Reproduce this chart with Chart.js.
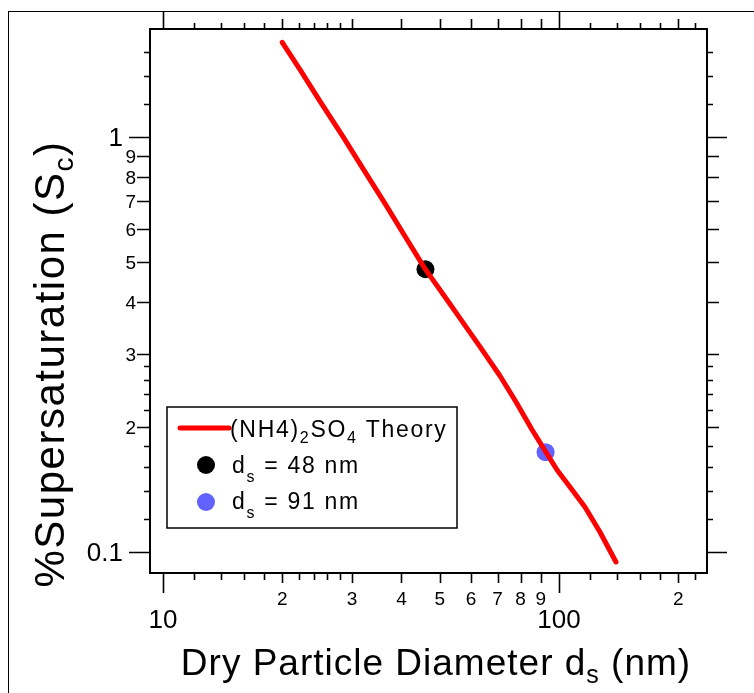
<!DOCTYPE html>
<html>
<head>
<meta charset="utf-8">
<script src="https://cdn.jsdelivr.net/npm/chart.js@4.4.1/dist/chart.umd.min.js"></script>
<style>
  html, body { margin: 0; padding: 0; background: #fff; }
</style>
</head>
<body>
<canvas id="chart" width="754" height="693"></canvas>
<script>
// (NH4)2SO4 theory curve
const theoryDiameter = [20.0, 22.2, 24.9, 28.5, 32.4, 36.4, 40.8, 45.9, 51.5, 56.2, 63.2, 71.0, 77.9, 85.5, 92.7, 98.9, 106.6, 116.3, 126.9, 139.3];
const theorySc = [1.69, 1.45, 1.22, 1.0, 0.823, 0.690, 0.577, 0.481, 0.412, 0.366, 0.312, 0.2655, 0.2298, 0.197, 0.174, 0.1576, 0.1434, 0.1284, 0.1117, 0.0946];

// measured points
const smallDiameter = [46];
const smallSc = [0.48];
const bigDiameter = [92.5];
const bigSc = [0.174];

// axis ticks (Igor style log axes)
const xMajorTicks = [10, 100];
const xMajorLabels = ['10', '100'];
const xMidTicks = [20, 30, 40, 50, 60, 70, 80, 90, 200];
const xMidLabels = ['2', '3', '4', '5', '6', '7', '8', '9', '2'];
const xMinorTicks = [12, 14, 16, 18, 22, 24, 26, 28, 120, 140, 160, 180, 220];
const yMajorTicks = [0.1, 1];
const yMajorLabels = ['0.1', '1'];
const yMidTicks = [0.2, 0.3, 0.4, 0.5, 0.6, 0.7, 0.8, 0.9];
const yMidLabels = ['2', '3', '4', '5', '6', '7', '8', '9'];
const yMinorTicks = [0.12, 0.14, 0.16, 0.18, 0.22, 0.24, 0.26, 0.28, 1.2, 1.4, 1.6];

const FONT = '"Liberation Sans", Arial, sans-serif';

function toPoints(xs, ys) {
    return xs.map((x, i) => ({x: x, y: ys[i]}));
}

// draws text made of normal and subscript pieces
function richText(ctx, x, y, parts, size, subSize, subDrop, align, spacing) {
    ctx.letterSpacing = (spacing || 0) + 'px';
    let w = 0;
    parts.forEach(p => {
        ctx.font = (p.sub ? subSize : size) + 'px ' + FONT;
        w += ctx.measureText(p.t).width;
    });
    let cx = x;
    if (align === 'center') cx = x - w / 2;
    ctx.textAlign = 'left';
    ctx.textBaseline = 'alphabetic';
    parts.forEach(p => {
        ctx.font = (p.sub ? subSize : size) + 'px ' + FONT;
        ctx.fillText(p.t, cx, p.sub ? y + subDrop : y);
        cx += ctx.measureText(p.t).width;
    });
    ctx.letterSpacing = '0px';
    return w;
}

const igorAxes = {
    id: 'igorAxes',
    afterDraw(chart) {
        const ctx = chart.ctx;
        const a = chart.chartArea;
        const xs = chart.scales.x;
        const ys = chart.scales.y;
        ctx.save();

        // outer figure border
        ctx.strokeStyle = '#000';
        ctx.lineWidth = 1;
        ctx.strokeRect(8.5, 11.5, 800, 720);

        // plot frame
        ctx.lineWidth = 2;
        ctx.strokeRect(a.left, a.top, a.right - a.left, a.bottom - a.top);

        ctx.lineWidth = 1.6;
        ctx.beginPath();
        const xTick = (vals, lenB, lenT) => vals.forEach(v => {
            const px = Math.round(xs.getPixelForValue(v)) + 0.5;
            ctx.moveTo(px, a.bottom); ctx.lineTo(px, a.bottom + lenB);
            ctx.moveTo(px, a.top); ctx.lineTo(px, a.top - lenT);
        });
        const yTick = (vals, lenL, lenR) => vals.forEach(v => {
            const py = Math.round(ys.getPixelForValue(v)) + 0.5;
            ctx.moveTo(a.left, py); ctx.lineTo(a.left - lenL, py);
            ctx.moveTo(a.right, py); ctx.lineTo(a.right + lenR, py);
        });
        xTick(xMajorTicks, 20, 18);
        xTick(xMidTicks, 10, 10);
        xTick(xMinorTicks, 7, 6);
        yTick(yMajorTicks, 21, 20);
        yTick(yMidTicks, 13, 12);
        yTick(yMinorTicks, 6, 6);
        ctx.stroke();

        // tick labels
        ctx.fillStyle = '#000';
        ctx.textBaseline = 'alphabetic';
        ctx.textAlign = 'center';
        ctx.font = '19px ' + FONT;
        xMidTicks.forEach((v, i) => ctx.fillText(xMidLabels[i], xs.getPixelForValue(v), a.bottom + 32));
        ctx.font = '26px ' + FONT;
        xMajorTicks.forEach((v, i) => ctx.fillText(xMajorLabels[i], xs.getPixelForValue(v), a.bottom + 55));

        ctx.textAlign = 'right';
        ctx.font = '19px ' + FONT;
        yMidTicks.forEach((v, i) => ctx.fillText(yMidLabels[i], a.left - 14, ys.getPixelForValue(v) + 7));
        ctx.font = '26px ' + FONT;
        yMajorTicks.forEach((v, i) => ctx.fillText(yMajorLabels[i], a.left - 27, ys.getPixelForValue(v) + 9));

        // axis titles
        richText(ctx, 436, 675, [{t: 'Dry Particle Diameter d'}, {t: 's', sub: true}, {t: ' (nm)'}], 37, 25, 8, 'center', 1);
        ctx.save();
        ctx.translate(64, 364);
        ctx.rotate(-Math.PI / 2);
        richText(ctx, 0, 0, [{t: '%Supersaturation (S'}, {t: 'c', sub: true}, {t: ')'}], 42, 28, 9, 'center', 1.5);
        ctx.restore();

        // legend
        const lx = 167, ly = 407, lw = 290, lh = 121;
        ctx.fillStyle = '#fff';
        ctx.fillRect(lx, ly, lw, lh);
        ctx.strokeStyle = '#000';
        ctx.lineWidth = 1.5;
        ctx.strokeRect(lx, ly, lw, lh);
        ctx.strokeStyle = '#ff0000';
        ctx.lineWidth = 5;
        ctx.lineCap = 'round';
        ctx.beginPath();
        ctx.moveTo(180, 428); ctx.lineTo(229, 428);
        ctx.stroke();
        ctx.fillStyle = '#000';
        ctx.beginPath(); ctx.arc(206, 465, 9, 0, Math.PI * 2); ctx.fill();
        ctx.fillStyle = '#6262ff';
        ctx.beginPath(); ctx.arc(206, 502, 9, 0, Math.PI * 2); ctx.fill();
        ctx.fillStyle = '#000';
        richText(ctx, 230, 437, [{t: '(NH4)'}, {t: '2', sub: true}, {t: 'SO'}, {t: '4', sub: true}, {t: ' Theory'}], 23, 16, 6, 'left', 1.7);
        richText(ctx, 232, 473, [{t: 'd'}, {t: 's', sub: true}, {t: ' = 48 nm'}], 23, 16, 9, 'left', 1.7);
        richText(ctx, 232, 509, [{t: 'd'}, {t: 's', sub: true}, {t: ' = 91 nm'}], 23, 16, 9, 'left', 1.7);

        ctx.restore();
    }
};

new Chart(document.getElementById('chart'), {
    type: 'scatter',
    data: {
        datasets: [{
            label: '(NH4)2SO4 Theory',
            data: toPoints(theoryDiameter, theorySc),
            showLine: true,
            borderColor: '#ff0000',
            borderWidth: 5,
            borderCapStyle: 'round',
            borderJoinStyle: 'round',
            pointRadius: 0,
            tension: 0
        }, {
            label: 'ds = 48 nm',
            data: toPoints(smallDiameter, smallSc),
            backgroundColor: '#000',
            borderWidth: 0,
            pointRadius: 9
        }, {
            label: 'ds = 91 nm',
            data: toPoints(bigDiameter, bigSc),
            backgroundColor: '#6262ff',
            borderWidth: 0,
            pointRadius: 9
        }]
    },
    options: {
        responsive: false,
        animation: false,
        layout: {padding: {left: 150, top: 29, right: 47, bottom: 120}},
        plugins: {legend: {display: false}, tooltip: {enabled: false}},
        scales: {
            x: {type: 'logarithmic', min: 9.27, max: 236.5, display: false},
            y: {type: 'logarithmic', min: 0.089, max: 1.82, display: false}
        }
    },
    plugins: [igorAxes]
});
</script>
</body>
</html>
